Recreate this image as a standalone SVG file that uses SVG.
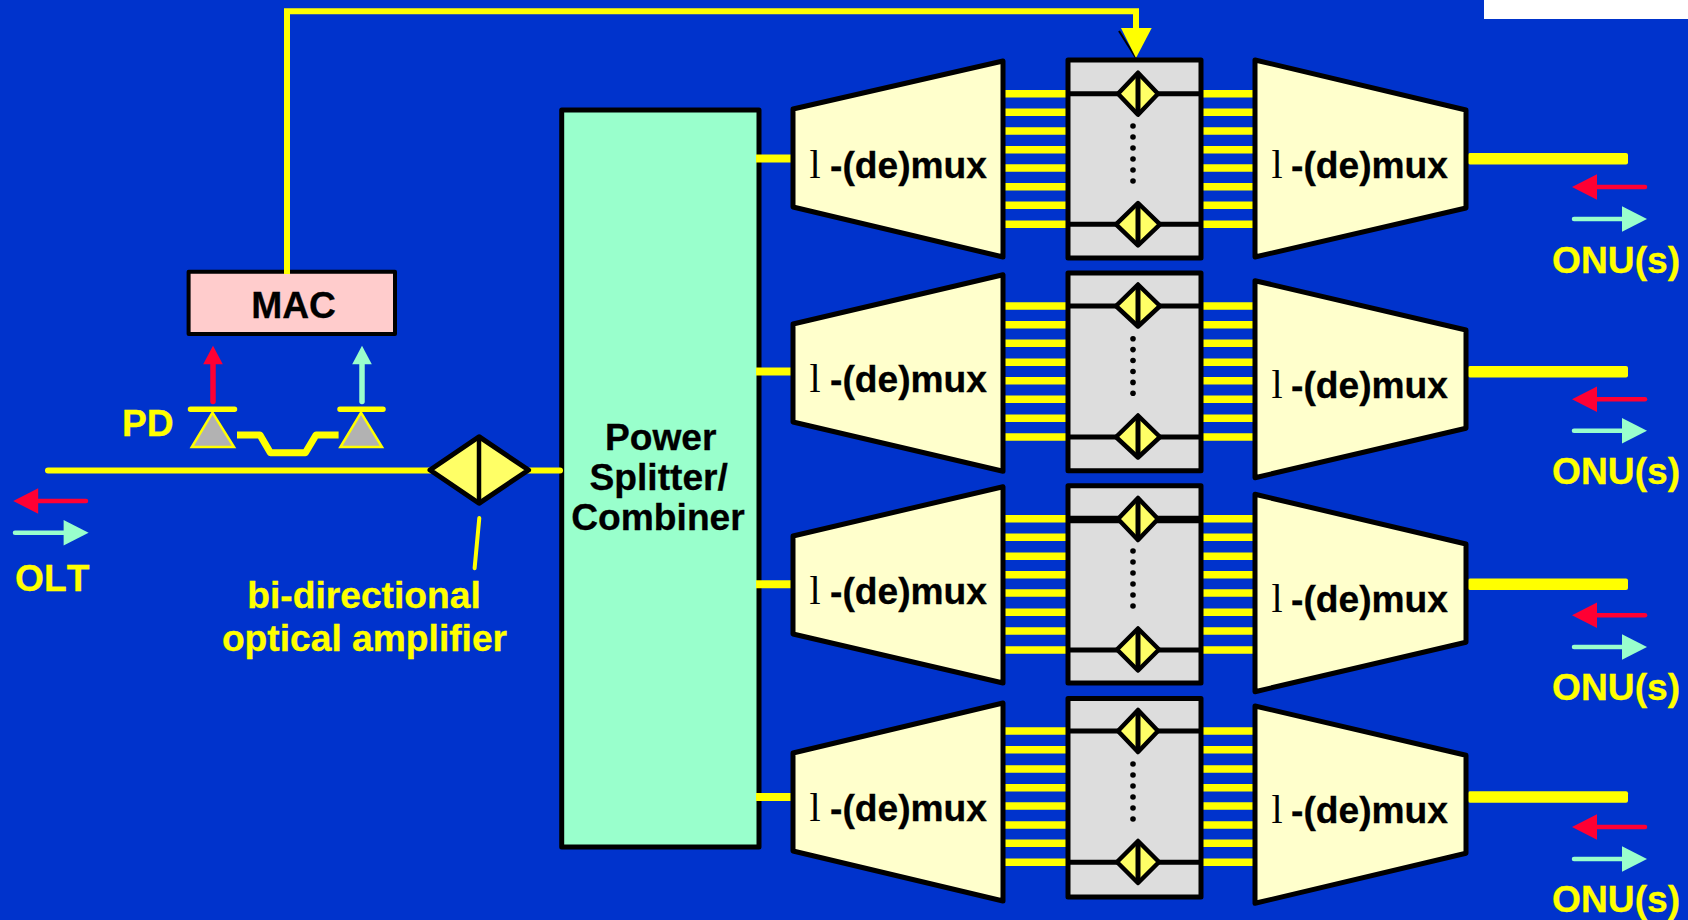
<svg xmlns="http://www.w3.org/2000/svg" width="1688" height="920" viewBox="0 0 1688 920">
<style>
.bg{fill:#0033cc}
.f{stroke:#ffff00;stroke-width:7.5;fill:none}
.in{stroke:#ffff00;stroke-width:8;fill:none}
.trap{fill:#ffffcc;stroke:#000;stroke-width:5;stroke-linejoin:round}
.box{fill:#dddddd;stroke:#000;stroke-width:5;stroke-linejoin:round}
.bar{stroke:#000;stroke-width:5;fill:none}
.dia{fill:#ffff66;stroke:#000;stroke-width:4.5;stroke-linejoin:round}
.dl{stroke:#000;stroke-width:5;fill:none}
.dot{fill:#000}
.thick{fill:#ffff00}
.r{fill:#ff0033}
.c{fill:#99ffcc}
.rl{stroke:#ff0033;stroke-width:4.5;stroke-linecap:round;fill:none}
.cl{stroke:#99ffcc;stroke-width:4.5;stroke-linecap:round;fill:none}
.t{font-family:"Liberation Sans",Arial,sans-serif;font-weight:bold;font-size:37.2px;font-kerning:none;stroke-width:0.3}
.y{fill:#ffff00;stroke:#ffff00}
.k{fill:#000;stroke:#000}
.lam{font-family:"Liberation Serif","Times New Roman",serif;font-size:40px;fill:#000}
.m{text-anchor:middle}
</style>
<rect class="bg" x="0" y="0" width="1688" height="920"/>
<rect x="1484" y="0" width="204" height="19" fill="#ffffff"/>

<g id="splitter">
<rect x="561.7" y="110" width="197.3" height="737" fill="#99ffcc" stroke="#000" stroke-width="5" stroke-linejoin="round"/>
<text class="t k m" x="660.7" y="449.7">Power</text>
<text class="t k m" x="658.7" y="489.7">Splitter/</text>
<text class="t k m" x="658" y="529.7">Combiner</text>
</g>

<g id="mac">
<rect x="188.6" y="271.7" width="206.4" height="62.3" fill="#ffcccc" stroke="#000" stroke-width="4" stroke-linejoin="round"/>
<text class="t k m" x="293.6" y="318">MAC</text>
</g>

<g id="connectors">
<path d="M48 470.6H560" stroke="#ffff00" stroke-width="6" stroke-linecap="round" fill="none"/>
<path d="M287 274V11.3H1136V32" stroke="#ffff00" stroke-width="6" fill="none"/>
<path d="M1119 31L1136 58" stroke="#000" stroke-width="2" fill="none"/>
<polygon points="1121,28 1151.7,28 1136,58" fill="#ffff00"/>
<path d="M479.3 518L474.6 568.3" stroke="#ffff00" stroke-width="4" stroke-linecap="round" fill="none"/>
<path d="M237 435H260L270.4 452.7H305.4L316 435H338.6" stroke="#ffff00" stroke-width="7" stroke-linejoin="round" fill="none"/>
<path d="M213 401.5V360" stroke="#ff0033" stroke-width="5.5" stroke-linecap="round" fill="none"/>
<polygon class="r" points="213,345.7 222.8,364.3 203.2,364.3"/>
<path d="M362 401.5V360" stroke="#99ffcc" stroke-width="5.5" stroke-linecap="round" fill="none"/>
<polygon class="c" points="362,345.7 371.8,364.3 352.2,364.3"/>
<path class="rl" d="M86 501H30"/>
<polygon class="r" points="13.2,501 38.2,488.3 38.2,513.7"/>
<path class="cl" d="M15 532.7H70"/>
<polygon class="c" points="88.6,532.7 63.6,520 63.6,545.4"/>
<g class="in">
<path d="M756 158.5H791"/><path d="M756 371.5H791"/><path d="M756 584.3H791"/><path d="M756 797H791"/>
</g>
<g class="f">
<path d="M1005 93.7H1068M1005 112.3H1068M1005 131H1068M1005 149.7H1068M1005 168H1068M1005 186.7H1068M1005 205.3H1068M1005 224.3H1068"/>
<path d="M1201 93.7H1253M1201 112.3H1253M1201 131H1253M1201 149.7H1253M1201 168H1253M1201 186.7H1253M1201 205.3H1253M1201 224.3H1253"/>
<path d="M1005 306H1068M1005 324.7H1068M1005 343.3H1068M1005 362.3H1068M1005 380.7H1068M1005 399.3H1068M1005 418.3H1068M1005 437H1068"/>
<path d="M1201 306H1253M1201 324.7H1253M1201 343.3H1253M1201 362.3H1253M1201 380.7H1253M1201 399.3H1253M1201 418.3H1253M1201 437H1253"/>
<path d="M1005 518.7H1068M1005 537.3H1068M1005 556.3H1068M1005 574.7H1068M1005 593H1068M1005 612.3H1068M1005 631H1068M1005 650H1068"/>
<path d="M1201 518.7H1253M1201 537.3H1253M1201 556.3H1253M1201 574.7H1253M1201 593H1253M1201 612.3H1253M1201 631H1253M1201 650H1253"/>
<path d="M1005 731H1068M1005 749.7H1068M1005 769H1068M1005 787.7H1068M1005 806H1068M1005 825H1068M1005 843.3H1068M1005 862.3H1068"/>
<path d="M1201 731H1253M1201 749.7H1253M1201 769H1253M1201 787.7H1253M1201 806H1253M1201 825H1253M1201 843.3H1253M1201 862.3H1253"/>
</g>
<rect class="thick" x="1468" y="153" width="160" height="11.5" rx="2"/>
<rect class="thick" x="1468" y="366" width="160" height="11.5" rx="2"/>
<rect class="thick" x="1468" y="578.6" width="160" height="11.5" rx="2"/>
<rect class="thick" x="1468" y="791.3" width="160" height="11.5" rx="2"/>
</g>

<g id="pd">
<path d="M190.5 409.3H234.5M340 409.3H383" stroke="#ffff00" stroke-width="5.5" stroke-linecap="round" fill="none"/>
<polygon points="212.5,412.7 234,447 191.8,447" fill="#b2b2b2" stroke="#ffff00" stroke-width="2.5"/>
<polygon points="361,412.7 382,447 340.4,447" fill="#b2b2b2" stroke="#ffff00" stroke-width="2.5"/>
<text class="t y" x="122" y="435.7">PD</text>
</g>

<g id="amplifier">
<polygon points="430,470 479,436.7 528.6,470 479,503.3" fill="#ffff66" stroke="#000" stroke-width="5" stroke-linejoin="round"/>
<path d="M479 437V503" stroke="#000" stroke-width="4.5" fill="none"/>
<text class="t y m" x="364" y="607.7">bi-directional</text>
<text class="t y m" x="364.5" y="651.2">optical amplifier</text>
</g>

<g id="olt"><text class="t y" x="15" y="591">OLT</text></g>

<g id="demux-l1">
<polygon class="trap" points="793,109 1003,61 1003,257 793,207"/>
<text class="lam" x="809.5" y="177.7">l</text><text class="t k" x="830" y="177.7">-(de)mux</text>
</g>
<g id="demux-l2">
<polygon class="trap" points="793,324 1003,274.7 1003,471.3 793,422"/>
<text class="lam" x="809.5" y="391.7">l</text><text class="t k" x="830" y="391.7">-(de)mux</text>
</g>
<g id="demux-l3">
<polygon class="trap" points="793,536 1003,486.7 1003,683 793,634"/>
<text class="lam" x="809.5" y="603.7">l</text><text class="t k" x="830" y="603.7">-(de)mux</text>
</g>
<g id="demux-l4">
<polygon class="trap" points="793,753 1003,703 1003,901 793,851"/>
<text class="lam" x="809.5" y="820.7">l</text><text class="t k" x="830" y="820.7">-(de)mux</text>
</g>

<g id="switch1">
<rect class="box" x="1068" y="60" width="133" height="198"/>
<path class="bar" d="M1068 93.7H1201M1068 224.3H1201"/>
<polygon class="dia" points="1138,72.7 1158,93.7 1138,114.7 1118,93.7"/><path class="dl" d="M1138 73V114"/>
<polygon class="dia" points="1138,203 1160,224.3 1138,245.5 1116,224.3"/><path class="dl" d="M1138 204V245"/>
<circle class="dot" cx="1133" cy="126" r="2.8"/><circle class="dot" cx="1133" cy="137" r="2.8"/><circle class="dot" cx="1133" cy="148" r="2.8"/><circle class="dot" cx="1133" cy="159" r="2.8"/><circle class="dot" cx="1133" cy="170" r="2.8"/><circle class="dot" cx="1133" cy="181" r="2.8"/>
</g>
<g id="switch2">
<rect class="box" x="1068" y="273" width="133" height="197.7"/>
<path class="bar" d="M1068 306H1201M1068 437H1201"/>
<polygon class="dia" points="1138,284.5 1160,306 1138,326.5 1116,306"/><path class="dl" d="M1138 285V326"/>
<polygon class="dia" points="1138,415.5 1160,437 1138,457.5 1116,437"/><path class="dl" d="M1138 416V457"/>
<circle class="dot" cx="1133" cy="338.7" r="2.8"/><circle class="dot" cx="1133" cy="349.6" r="2.8"/><circle class="dot" cx="1133" cy="360.5" r="2.8"/><circle class="dot" cx="1133" cy="371.5" r="2.8"/><circle class="dot" cx="1133" cy="382.4" r="2.8"/><circle class="dot" cx="1133" cy="393.3" r="2.8"/>
</g>
<g id="switch3">
<rect class="box" x="1068" y="485.7" width="133" height="197.3"/>
<path class="bar" d="M1068 519.5H1201" style="stroke-width:7.5"/><path class="bar" d="M1068 650H1201"/>
<polygon class="dia" points="1138,498 1158,519 1138,540 1118,519"/><path class="dl" d="M1138 499V540"/>
<polygon class="dia" points="1138,628.5 1159,649.5 1138,670.5 1117,649.5"/><path class="dl" d="M1138 629V670"/>
<circle class="dot" cx="1133" cy="551" r="2.8"/><circle class="dot" cx="1133" cy="562" r="2.8"/><circle class="dot" cx="1133" cy="573" r="2.8"/><circle class="dot" cx="1133" cy="584" r="2.8"/><circle class="dot" cx="1133" cy="595" r="2.8"/><circle class="dot" cx="1133" cy="606" r="2.8"/>
</g>
<g id="switch4">
<rect class="box" x="1068" y="698.5" width="133" height="198.5"/>
<path class="bar" d="M1068 731H1201M1068 862.3H1201"/>
<polygon class="dia" points="1138,710 1158,731 1138,752 1118,731"/><path class="dl" d="M1138 711V751"/>
<polygon class="dia" points="1138,841 1159,862 1138,883 1117,862"/><path class="dl" d="M1138 842V882"/>
<circle class="dot" cx="1133" cy="764" r="2.8"/><circle class="dot" cx="1133" cy="775" r="2.8"/><circle class="dot" cx="1133" cy="786" r="2.8"/><circle class="dot" cx="1133" cy="797" r="2.8"/><circle class="dot" cx="1133" cy="808" r="2.8"/><circle class="dot" cx="1133" cy="819" r="2.8"/>
</g>

<g id="demux-r1">
<polygon class="trap" points="1255,60 1466,110 1466,208 1255,257"/>
<text class="lam" x="1271.5" y="178">l</text><text class="t k" x="1291" y="178">-(de)mux</text>
</g>
<g id="demux-r2">
<polygon class="trap" points="1255,280.7 1466,330 1466,428.3 1255,477.7"/>
<text class="lam" x="1271.5" y="398">l</text><text class="t k" x="1291" y="398">-(de)mux</text>
</g>
<g id="demux-r3">
<polygon class="trap" points="1255,494.3 1466,544 1466,642.3 1255,691.7"/>
<text class="lam" x="1271.5" y="612.2">l</text><text class="t k" x="1291" y="612.2">-(de)mux</text>
</g>
<g id="demux-r4">
<polygon class="trap" points="1255,706 1466,755.3 1466,853.3 1255,903.3"/>
<text class="lam" x="1271.5" y="823.2">l</text><text class="t k" x="1291" y="823.2">-(de)mux</text>
</g>

<g id="onu1">
<path class="rl" d="M1645 187H1590"/><polygon class="r" points="1572,187 1597,174.3 1597,199.7"/>
<path class="cl" d="M1574 219H1630"/><polygon class="c" points="1647,219 1622,206.3 1622,231.7"/>
<text class="t y" x="1552" y="272.5">ONU(s)</text>
</g>
<g id="onu2">
<path class="rl" d="M1645 399.3H1590"/><polygon class="r" points="1572,399.3 1597,386.6 1597,412"/>
<path class="cl" d="M1574 430.7H1630"/><polygon class="c" points="1647,430.7 1622,418 1622,443.4"/>
<text class="t y" x="1552" y="483.8">ONU(s)</text>
</g>
<g id="onu3">
<path class="rl" d="M1645 615.3H1590"/><polygon class="r" points="1572,615.3 1597,602.6 1597,628"/>
<path class="cl" d="M1574 647H1630"/><polygon class="c" points="1647,647 1622,634.3 1622,659.7"/>
<text class="t y" x="1552" y="699.8">ONU(s)</text>
</g>
<g id="onu4">
<path class="rl" d="M1645 827H1590"/><polygon class="r" points="1572,827 1597,814.3 1597,839.7"/>
<path class="cl" d="M1574 859H1630"/><polygon class="c" points="1647,859 1622,846.3 1622,871.7"/>
<text class="t y" x="1552" y="912">ONU(s)</text>
</g>
</svg>
